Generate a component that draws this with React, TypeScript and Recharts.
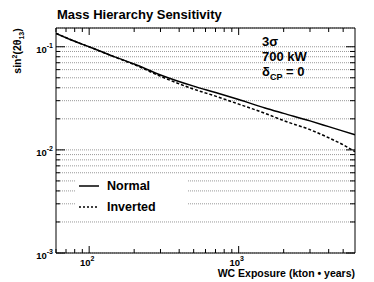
import { CartesianGrid, Legend, Line, LineChart, XAxis, YAxis } from 'recharts';

// exposure in kton*years, sensitivity as sin^2(2 theta13)
const exposure = [60, 80, 100, 150, 200, 300, 500, 700, 1000, 1500, 2000, 3000, 4000, 5000, 6000];
const normal = [0.135, 0.113, 0.1, 0.0794, 0.068, 0.0533, 0.0415, 0.036, 0.0308, 0.0255, 0.0226, 0.0191, 0.0168, 0.0152, 0.014];
const inverted = [0.135, 0.113, 0.0997, 0.079, 0.0672, 0.0517, 0.0388, 0.0332, 0.0278, 0.0226, 0.0192, 0.0157, 0.0131, 0.0112, 0.0096];

const xTicks = [60, 70, 80, 90, 100, 200, 300, 400, 500, 600, 700, 800, 900, 1000, 2000, 3000, 4000, 5000];
const yTicks = [
  0.001, 0.002, 0.003, 0.004, 0.005, 0.006, 0.007, 0.008, 0.009,
  0.01, 0.02, 0.03, 0.04, 0.05, 0.06, 0.07, 0.08, 0.09, 0.1
];

const series = [
  { key: 'normal', name: 'Normal', dash: undefined as string | undefined },
  { key: 'inverted', name: 'Inverted', dash: '3 2' }
];

const data = exposure.map((x, i) => ({ x, normal: normal[i], inverted: inverted[i] }));

const font = '"Liberation Sans", Arial, Helvetica, sans-serif';

const isMajor = (v: number) => Math.abs(Math.log10(v) - Math.round(Math.log10(v))) < 1e-6;
const expOf = (v: number) => Math.round(Math.log10(v));

const BottomTick = ({ x, y, payload }: any) => {
  const major = isMajor(payload.value);
  return (
    <g>
      <line x1={x} x2={x} y1={y} y2={y - (major ? 7 : 4)} stroke="#000" />
      {major && (
        <text x={x - 2} y={y + 13} textAnchor="middle" fontFamily={font} fontWeight="bold" fontSize={9.5} fill="#000">
          10<tspan dy={-5} fontSize={7}>{expOf(payload.value)}</tspan>
        </text>
      )}
    </g>
  );
};

const TopTick = ({ x, y, payload }: any) => (
  <line x1={x} x2={x} y1={y} y2={y + (isMajor(payload.value) ? 7 : 4)} stroke="#000" />
);

const LeftTick = ({ x, y, payload }: any) => {
  const major = isMajor(payload.value);
  return (
    <g>
      <line x1={x} x2={x + (major ? 9 : 4)} y1={y} y2={y} stroke="#000" />
      {major && (
        <text x={x - 3} y={y + 6} textAnchor="end" fontFamily={font} fontWeight="bold" fontSize={9.5} fill="#000">
          10<tspan dy={-5} fontSize={7}>{expOf(payload.value)}</tspan>
        </text>
      )}
    </g>
  );
};

const RightTick = ({ x, y, payload }: any) => (
  <line x1={x} x2={x - (isMajor(payload.value) ? 9 : 5)} y1={y} y2={y} stroke="#000" />
);

const LegendBox = () => (
  <div style={{ background: '#fff', width: 113, height: 38, fontFamily: font, fontWeight: 'bold', fontSize: 12.5 }}>
    {series.map((s) => (
      <div key={s.key} style={{ display: 'flex', alignItems: 'center', height: 21 }}>
        <svg width={28} height={6} style={{ marginLeft: 4 }}>
          <line x1={0} x2={20} y1={3} y2={3} stroke="#000" strokeWidth={1.5} strokeDasharray={s.dash ? '2 2' : undefined} />
        </svg>
        <span>{s.name}</span>
      </div>
    ))}
  </div>
);

export default function App() {
  return (
    <div style={{ position: 'absolute', left: 0, top: 0, width: 374, height: 282, background: '#fff' }}>
      <LineChart width={374} height={282} data={data} margin={{ top: 0, right: 0, bottom: 0, left: 0 }}>
        <CartesianGrid vertical={false} stroke="#999" strokeDasharray="1 1" />
        <XAxis
          dataKey="x"
          type="number"
          scale="log"
          domain={[60, 6000]}
          allowDataOverflow
          ticks={xTicks}
          interval={0}
          height={29}
          tickSize={0}
          tickMargin={0}
          tickLine={false}
          axisLine={{ stroke: '#000' }}
          tick={<BottomTick />}
        />
        <XAxis
          xAxisId="top"
          orientation="top"
          dataKey="x"
          type="number"
          scale="log"
          domain={[60, 6000]}
          allowDataOverflow
          ticks={xTicks}
          interval={0}
          height={28}
          tickSize={0}
          tickMargin={0}
          tickLine={false}
          axisLine={{ stroke: '#000' }}
          tick={<TopTick />}
        />
        <YAxis
          type="number"
          scale="log"
          domain={[0.001, 0.152]}
          allowDataOverflow
          ticks={yTicks}
          interval={0}
          width={56}
          tickSize={0}
          tickMargin={0}
          tickLine={false}
          axisLine={{ stroke: '#000' }}
          tick={<LeftTick />}
        />
        <YAxis
          yAxisId="r"
          orientation="right"
          type="number"
          scale="log"
          domain={[0.001, 0.152]}
          allowDataOverflow
          ticks={yTicks}
          interval={0}
          width={19}
          tickSize={0}
          tickMargin={0}
          tickLine={false}
          axisLine={{ stroke: '#000' }}
          tick={<RightTick />}
        />
        {series.map((s) => (
          <Line
            key={s.key}
            dataKey={s.key}
            name={s.name}
            type="monotone"
            stroke="#000"
            strokeWidth={1.5}
            strokeDasharray={s.dash}
            dot={false}
            isAnimationActive={false}
          />
        ))}
        <Legend
          layout="vertical"
          align="center"
          verticalAlign="middle"
          content={<LegendBox />}
          wrapperStyle={{ position: 'absolute', left: 75, top: 175, width: 113, height: 38 }}
        />
      </LineChart>

      <div style={{ position: 'absolute', left: 57, top: 7, fontFamily: font, fontWeight: 'bold', fontSize: 13, whiteSpace: 'nowrap' }}>
        Mass Hierarchy Sensitivity
      </div>
      <div
        style={{
          position: 'absolute', left: 18, top: 51, transform: 'translate(-50%, -50%) rotate(-90deg)',
          fontFamily: font, fontWeight: 'bold', fontSize: 10.5, whiteSpace: 'nowrap', lineHeight: 1
        }}
      >
        sin<sup style={{ fontSize: 7 }}>2</sup>(2θ<sub style={{ fontSize: 7 }}>13</sub>)
      </div>
      <div
        style={{
          position: 'absolute', right: 19, top: 268, fontFamily: font, fontWeight: 'bold', fontSize: 10.5,
          whiteSpace: 'nowrap', lineHeight: 1
        }}
      >
        WC Exposure (kton • years)
      </div>
      <div style={{ position: 'absolute', left: 262, top: 35, fontFamily: font, fontWeight: 'bold', fontSize: 13, lineHeight: '14.5px' }}>
        <div>3σ</div>
        <div>700 kW</div>
        <div style={{ marginTop: 1 }}>
          δ<sub style={{ fontSize: 9, lineHeight: 0 }}>CP</sub> = 0
        </div>
      </div>
    </div>
  );
}
